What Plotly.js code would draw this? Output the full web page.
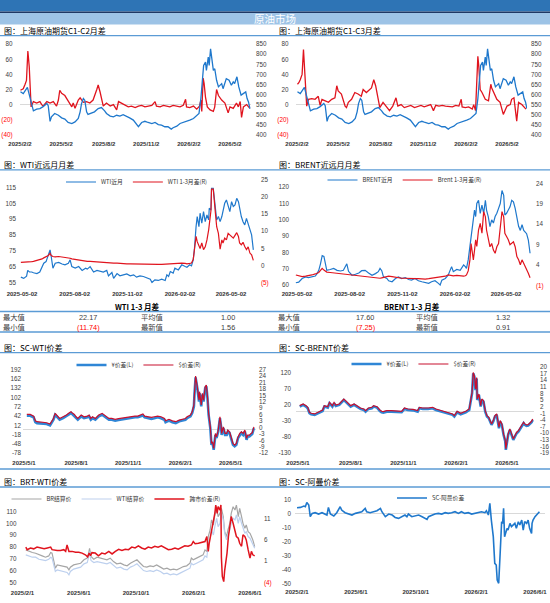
<!DOCTYPE html>
<html><head><meta charset="utf-8">
<script src="https://cdn.plot.ly/plotly-3.0.1.min.js"></script>
<style>html,body{margin:0;padding:0;background:#fff}#chart{width:550px;height:603px}</style>
</head><body><div id="chart"></div>
<script>
// ---------------- DATA ----------------
// 上海原油期货 主力价格 (R) 与 C1-C2 / C1-C3 月差 (L)
const scDates = ['2025-02-03','2025-02-09','2025-02-18','2025-02-22','2025-02-27','2025-03-03','2025-03-10','2025-03-17','2025-03-24','2025-04-01','2025-04-04','2025-04-08','2025-04-11','2025-04-18','2025-04-26','2025-05-03','2025-05-10','2025-05-17','2025-05-25','2025-06-01','2025-06-08','2025-06-12','2025-06-15','2025-06-19','2025-06-22','2025-06-26','2025-06-29','2025-07-06','2025-07-13','2025-07-21','2025-07-28','2025-08-04','2025-08-08','2025-08-16','2025-08-23','2025-08-30','2025-09-06','2025-09-13','2025-09-20','2025-09-27','2025-10-05','2025-10-12','2025-10-16','2025-10-23','2025-10-30','2025-11-06','2025-11-14','2025-11-21','2025-11-28','2025-12-05','2025-12-12','2025-12-19','2025-12-26','2025-12-30','2026-01-07','2026-01-14','2026-01-21','2026-01-28','2026-02-04','2026-02-12','2026-02-19','2026-02-24','2026-02-28','2026-03-03','2026-03-06','2026-03-10','2026-03-12','2026-03-16','2026-03-18','2026-03-21','2026-03-24','2026-03-27','2026-03-30','2026-04-03','2026-04-07','2026-04-10','2026-04-14','2026-04-17','2026-04-21','2026-04-24','2026-04-30','2026-05-05','2026-05-09','2026-05-12','2026-05-17','2026-05-21','2026-05-26','2026-05-30','2026-06-05','2026-06-08','2026-06-11','2026-06-14'];
const scValues = [614,605,636,601,547,519,527,530,540,556,545,467,489,506,497,484,478,461,456,464,481,514,555,580,572,514,501,506,514,530,535,519,506,493,489,497,493,500,493,484,473,448,440,461,467,461,456,461,451,448,440,440,428,435,443,456,461,466,473,481,493,506,580,679,745,761,720,786,745,827,777,720,728,671,638,646,654,629,654,679,671,646,663,655,688,638,597,605,613,580,563,530];

const c12Dates = ['2025-02-03','2025-02-09','2025-02-13','2025-02-16','2025-02-19','2025-02-22','2025-02-26','2025-03-03','2025-03-10','2025-03-17','2025-03-21','2025-03-24','2025-04-01','2025-04-08','2025-04-15','2025-04-22','2025-04-26','2025-04-29','2025-05-03','2025-05-10','2025-05-14','2025-05-21','2025-05-25','2025-05-28','2025-06-01','2025-06-08','2025-06-12','2025-06-19','2025-06-26','2025-07-03','2025-07-10','2025-07-18','2025-07-21','2025-07-25','2025-07-29','2025-08-01','2025-08-08','2025-08-16','2025-08-23','2025-08-30','2025-09-03','2025-09-10','2025-09-17','2025-09-24','2025-10-01','2025-10-09','2025-10-16','2025-10-23','2025-10-30','2025-11-06','2025-11-14','2025-11-21','2025-11-24','2025-12-02','2025-12-09','2025-12-16','2025-12-23','2025-12-30','2026-01-07','2026-01-14','2026-01-21','2026-01-26','2026-01-28','2026-02-04','2026-02-12','2026-02-19','2026-02-25','2026-02-28','2026-03-02','2026-03-05','2026-03-07','2026-03-10','2026-03-14','2026-03-20','2026-03-27','2026-03-30','2026-04-03','2026-04-07','2026-04-14','2026-04-21','2026-04-28','2026-05-02','2026-05-09','2026-05-16','2026-05-20','2026-05-24','2026-05-27','2026-05-31','2026-06-07','2026-06-11','2026-06-14'];
const c12Values = [19,21,27,32,71,50,-3,4,2,4,0,-2,4,2,4,-2,6,19,15,12,8,2,-3,2,-5,6,9,3,4,2,6,20,26,17,4,-2,2,-2,0,-7,4,2,-1,-3,-2,-4,-2,-1,-3,-2,-1,4,-2,-3,-1,-2,-3,-1,-2,-3,-1,7,-3,-4,-2,-6,-2,6,-9,35,28,10,-3,-7,-9,-3,20,12,6,2,-11,-3,-5,2,-3,4,-17,-3,0,-3,-5];

const c13Dates = ['2025-02-03','2025-02-06','2025-02-09','2025-02-13','2025-02-16','2025-02-18','2025-02-23','2025-02-27','2025-03-06','2025-03-13','2025-03-20','2025-03-24','2025-03-28','2025-04-04','2025-04-11','2025-04-18','2025-04-25','2025-04-29','2025-05-02','2025-05-09','2025-05-13','2025-05-17','2025-05-20','2025-05-24','2025-05-31','2025-06-07','2025-06-14','2025-06-21','2025-06-25','2025-07-02','2025-07-13','2025-07-18','2025-07-22','2025-07-27','2025-07-31','2025-08-07','2025-08-14','2025-08-21','2025-08-28','2025-09-04','2025-09-08','2025-09-15','2025-09-22','2025-09-29','2025-10-06','2025-10-14','2025-10-21','2025-10-28','2025-11-04','2025-11-11','2025-11-18','2025-11-24','2025-11-29','2025-12-06','2025-12-13','2025-12-20','2025-12-28','2026-01-04','2026-01-11','2026-01-18','2026-01-23','2026-01-25','2026-02-01','2026-02-08','2026-02-16','2026-02-19','2026-02-23','2026-02-28','2026-03-02','2026-03-05','2026-03-09','2026-03-16','2026-03-23','2026-03-28','2026-03-30','2026-04-04','2026-04-10','2026-04-17','2026-04-24','2026-05-02','2026-05-09','2026-05-12','2026-05-17','2026-05-23','2026-05-27','2026-06-03','2026-06-12'];
const c13Values = [27,29,33,40,73,51,-2,7,8,7,11,-1,7,5,3,7,9,25,18,14,7,-2,-4,3,7,16,14,11,20,16,22,33,25,7,-4,3,-2,-8,-2,9,-2,0,-4,-2,-1,-4,-2,-1,-3,-1,0,-8,-1,-2,-1,-2,-2,-3,-1,-2,7,-3,-4,-3,-6,0,-8,64,51,20,16,7,5,27,22,16,7,3,-13,-2,0,7,9,-22,3,0,-6];

const c12TickDates = ['2025-02-02','2025-05-02','2025-08-02','2025-11-02','2026-02-02','2026-05-02'];
const c12TickLabels = ['2025/2/2','2025/5/2','2025/8/2','2025/11/2','2026/2/2','2026/5/2'];
const c12LeftTicks = [-40,-20,0,20,40,60,80];
const c12RightTicks = [400,450,500,550,600,650,700,750,800,850];

// WTI 近月 (L) 与 WTI 1-3 月差 (R)
const wtiDates = ['2025-04-30','2025-05-05','2025-05-10','2025-05-12','2025-05-15','2025-05-19','2025-05-22','2025-05-28','2025-06-02','2025-06-06','2025-06-09','2025-06-13','2025-06-17','2025-06-20','2025-06-22','2025-06-25','2025-06-29','2025-07-05','2025-07-11','2025-07-16','2025-07-22','2025-07-25','2025-07-28','2025-08-03','2025-08-09','2025-08-15','2025-08-21','2025-08-24','2025-08-29','2025-09-04','2025-09-10','2025-09-16','2025-09-21','2025-09-27','2025-09-30','2025-10-06','2025-10-09','2025-10-15','2025-10-20','2025-10-26','2025-11-01','2025-11-07','2025-11-13','2025-11-18','2025-11-24','2025-11-30','2025-12-06','2025-12-12','2025-12-15','2025-12-20','2025-12-26','2026-01-01','2026-01-07','2026-01-10','2026-01-13','2026-01-16','2026-01-21','2026-01-24','2026-01-30','2026-02-05','2026-02-11','2026-02-14','2026-02-19','2026-02-22','2026-02-25','2026-02-27','2026-03-02','2026-03-04','2026-03-07','2026-03-09','2026-03-12','2026-03-15','2026-03-18','2026-03-21','2026-03-24','2026-03-25','2026-03-28','2026-03-29','2026-04-01','2026-04-04','2026-04-07','2026-04-10','2026-04-13','2026-04-16','2026-04-18','2026-04-21','2026-04-24','2026-04-27','2026-04-30','2026-05-03','2026-05-06','2026-05-09','2026-05-12','2026-05-15','2026-05-17','2026-05-20','2026-05-23','2026-05-26','2026-05-29','2026-06-01','2026-06-04','2026-06-07','2026-06-10'];
const wtiFront = [58.8,58,59.4,63,62,62,61.5,61,62,65.4,67.5,68.5,72,75.8,71.7,64.4,67.5,68,67,66.5,67.5,69.6,65.4,64.4,65.4,63,64.4,63.8,65.4,62,63,62.7,62,63,59.6,61.7,58,61,59.6,60.2,60.8,59.6,60.2,58.8,59.6,59.2,58.5,57.5,55.4,57.1,56.7,57.5,56.7,60.2,59.2,62.3,61.3,64.4,63.3,66.5,65.4,65,66.5,65.8,69.6,75.8,90.4,96.7,90.4,98.8,92.5,99.8,93.5,97.7,94.6,101.9,100.8,114.4,114.4,102.9,94.6,96.7,93.5,96.7,99.8,105,107.1,104,99.8,106,103,104,108.1,106,101.9,96.7,93.5,91.5,95.6,92.5,89.4,85.2,75.8];
const wtiSpread = [1.0,1.0,1.1,1.1,1.2,1.2,1.3,1.5,1.7,2.0,2.3,2.6,3.0,3.6,3.0,2.7,2.6,2.7,2.6,2.4,2.3,2.2,2.0,1.8,1.6,1.5,1.4,1.3,1.3,1.2,1.1,1.0,1.0,0.9,0.9,0.8,0.8,0.8,0.7,0.7,0.6,0.6,0.55,0.5,0.5,0.5,0.4,0.4,0.35,0.35,0.4,0.4,0.5,0.55,0.6,0.6,0.7,0.7,0.8,0.8,0.7,0.6,0.7,0.8,1.8,4.5,8.5,7.0,5.6,5.0,6.6,4.7,5.5,7.5,10.4,12,16,22.2,22.2,16.6,11.3,9.4,4.8,7.5,6.6,8.0,7.5,9.4,9.0,8.5,8.0,8.8,9.6,8.5,6.6,6.1,6.8,5.6,4.7,5.5,3.7,3.2,1.56];
const wtiTickDates = ['2025-05-02','2025-08-02','2025-11-02','2026-02-02','2026-05-02'];
const wtiTickLabels = ['2025-05-02','2025-08-02','2025-11-02','2026-02-02','2026-05-02'];
const wtiLeftTicks = [55,65,75,85,95,105,115];
const wtiRightTicks = [-5,0,5,10,15,20,25];
const wtiStatNames = ['最大值','最小值','平均值','最新值'];
const wtiStatValues = [22.17,-11.74,1.00,1.56];

// BRENT 近月 (L) 与 Brent 1-3 月差 (R)
const brentDates = ['2025-04-30','2025-05-05','2025-05-11','2025-05-17','2025-05-22','2025-05-28','2025-06-03','2025-06-06','2025-06-09','2025-06-12','2025-06-15','2025-06-18','2025-06-21','2025-06-23','2025-06-29','2025-07-05','2025-07-11','2025-07-17','2025-07-22','2025-07-25','2025-07-28','2025-07-31','2025-08-06','2025-08-12','2025-08-18','2025-08-23','2025-08-29','2025-09-04','2025-09-10','2025-09-16','2025-09-21','2025-09-24','2025-09-27','2025-09-30','2025-10-06','2025-10-09','2025-10-15','2025-10-21','2025-10-26','2025-11-01','2025-11-07','2025-11-13','2025-11-18','2025-11-24','2025-11-30','2025-12-06','2025-12-12','2025-12-18','2025-12-23','2025-12-29','2026-01-04','2026-01-07','2026-01-10','2026-01-16','2026-01-21','2026-01-24','2026-01-27','2026-01-30','2026-02-05','2026-02-11','2026-02-14','2026-02-17','2026-02-20','2026-02-22','2026-02-25','2026-02-28','2026-03-02','2026-03-04','2026-03-06','2026-03-08','2026-03-10','2026-03-12','2026-03-15','2026-03-18','2026-03-21','2026-03-24','2026-03-27','2026-03-29','2026-04-01','2026-04-04','2026-04-07','2026-04-10','2026-04-13','2026-04-16','2026-04-19','2026-04-22','2026-04-25','2026-04-28','2026-04-30','2026-05-03','2026-05-06','2026-05-09','2026-05-12','2026-05-15','2026-05-18','2026-05-21','2026-05-24','2026-05-27','2026-05-30','2026-06-02','2026-06-04','2026-06-07','2026-06-10','2026-06-13'];
const brentFront = [61.4,61.8,64,65,64.6,65,65.5,67,69,73,78,77.5,72,69,69.5,70.2,69,68.6,69,71.3,73,68.4,66,66.6,67.4,68.8,69,67.4,66,67,68.2,70.2,68.8,65,64,62.6,62,64,65,64,64.6,63.4,63,64,62.6,62,61.4,61,62,62.6,61,60,63,64,66,69,71.3,68.2,69.6,69,70.8,72.3,71.3,70.2,75.4,83.5,87.6,95.8,98.8,106,102,110,112,104,109,104,112,106,102,95.8,100,98,102,104,107,110,118,115,103,104,106,108,112,111,107,100.5,96,93.5,97,93.5,92.8,91.5,87.6,79.5];
const brentSpread = [1.6,1.4,1.2,1.3,1.4,1.6,1.85,2.0,2.2,2.7,3.2,2.8,2.4,2.3,2.2,2.1,2.0,1.9,1.85,1.8,1.7,1.6,1.5,1.4,1.3,1.25,1.2,1.1,1.0,0.9,0.8,0.8,0.9,1.0,1.2,1.3,1.2,1.0,1.0,0.8,0.8,0.7,0.7,0.7,0.7,0.6,0.6,0.7,0.8,0.9,1.0,1.0,1.2,1.3,1.6,1.5,1.5,1.4,1.5,1.4,1.2,1.3,1.4,1.6,2.6,5.3,9.3,7.6,5.3,7.6,10.2,8.6,12.6,14.2,11.8,17.1,15.8,12.6,10.2,8.5,9.3,7.7,6.9,8.5,9.3,13.4,17.1,15.8,11.8,11,10.2,9,9.3,9.7,8.5,6.1,5.3,4.1,5.3,4.5,3.6,2.8,2.0,0.91];
const brentLeftTicks = [60,70,80,90,100,110,120];
const brentRightTicks = [-1,4,9,14,19,24];
const brentStatNames = ['最大值','最小值','平均值','最新值'];
const brentStatValues = [17.60,-7.25,1.32,0.91];

// SC-WTI 价差: ¥ (L), $ (R)
const scwDates = ['2025-05-06','2025-05-12','2025-05-18','2025-05-21','2025-05-24','2025-05-30','2025-06-04','2025-06-10','2025-06-16','2025-06-19','2025-06-22','2025-06-25','2025-06-28','2025-07-03','2025-07-09','2025-07-15','2025-07-20','2025-07-23','2025-07-26','2025-07-29','2025-08-01','2025-08-04','2025-08-10','2025-08-15','2025-08-21','2025-08-24','2025-08-27','2025-08-30','2025-09-04','2025-09-10','2025-09-16','2025-09-22','2025-09-28','2025-10-03','2025-10-09','2025-10-15','2025-10-21','2025-10-26','2025-11-01','2025-11-07','2025-11-13','2025-11-18','2025-11-24','2025-11-27','2025-11-30','2025-12-06','2025-12-12','2025-12-17','2025-12-23','2025-12-29','2026-01-04','2026-01-06','2026-01-12','2026-01-18','2026-01-24','2026-01-30','2026-02-04','2026-02-10','2026-02-13','2026-02-19','2026-02-22','2026-02-25','2026-02-26','2026-02-28','2026-03-03','2026-03-06','2026-03-07','2026-03-10','2026-03-12','2026-03-14','2026-03-17','2026-03-19','2026-03-21','2026-03-23','2026-03-26','2026-03-28','2026-03-30','2026-04-01','2026-04-04','2026-04-06','2026-04-09','2026-04-12','2026-04-14','2026-04-15','2026-04-18','2026-04-21','2026-04-24','2026-04-26','2026-04-29','2026-05-02','2026-05-05','2026-05-08','2026-05-11','2026-05-14','2026-05-17','2026-05-20','2026-05-23','2026-05-26','2026-05-29','2026-05-31','2026-06-03','2026-06-06','2026-06-08','2026-06-11'];
const scwYuan = [43,43,38,22,19,18,16,16,12,22,30,46,41,30,35,41,48,52,46,43,35,30,41,35,38,41,30,35,30,41,46,38,30,30,27,29,31,33,35,35,38,38,41,44,38,35,33,35,38,35,30,22,27,22,19,25,27,30,35,41,52,73,111,167,133,89,116,73,111,89,133,138,100,46,3,-51,-46,-67,-19,-29,-8,35,8,-19,3,-19,-19,-8,-13,-35,-51,-56,-51,-29,-19,-13,-19,-8,-35,-24,-24,-19,-16,3];
const scwUsd = [6.1,6.1,5.3,3.1,2.7,2.5,2.2,2.2,1.6,3.1,4.2,6.6,5.8,4.2,5.0,5.8,6.9,7.3,6.6,6.1,5.0,4.2,5.8,5.0,5.3,5.8,4.2,5.0,4.2,5.8,6.6,5.3,4.2,4.2,3.8,4.1,4.4,4.7,5.0,5.0,5.3,5.3,5.8,6.3,5.3,5.0,4.7,5.0,5.3,5.0,4.2,3.1,3.8,3.1,2.7,3.4,3.8,4.2,5.0,5.8,7.3,10.5,15.9,24.0,19.0,12.8,16.7,10.5,15.9,12.8,19.0,19.8,14.4,6.6,0.3,-7.5,-6.7,-9.8,-2.8,-4.4,-1.2,5.0,1.1,-2.8,0.3,-2.8,-2.8,-1.2,-2.0,-5.1,-7.5,-8.3,-7.5,-4.4,-2.8,-2.0,-2.8,-1.2,-5.1,-3.6,-3.6,-2.8,-2.5,0.3];
const spreadTickDates = ['2025-05-01','2025-08-01','2025-11-01','2026-02-01','2026-05-01'];
const spreadTickLabels = ['2025/5/1','2025/8/1','2025/11/1','2026/2/1','2026/5/1'];
const scwLeftTicks = [-78,-48,-18,12,42,72,102,132,162,192];
const scwRightTicks = [-12,-9,-6,-3,0,3,6,9,12,15,18,21,24,27];

// SC-BRENT 价差: ¥ (L), $ (R)
const scbDates = ['2025-05-04','2025-05-10','2025-05-15','2025-05-18','2025-05-21','2025-05-24','2025-05-30','2025-06-04','2025-06-10','2025-06-13','2025-06-16','2025-06-22','2025-06-25','2025-06-28','2025-06-30','2025-07-03','2025-07-06','2025-07-12','2025-07-17','2025-07-20','2025-07-23','2025-07-29','2025-08-01','2025-08-07','2025-08-12','2025-08-18','2025-08-24','2025-08-27','2025-09-01','2025-09-07','2025-09-10','2025-09-16','2025-09-21','2025-09-24','2025-09-27','2025-10-03','2025-10-11','2025-10-20','2025-10-29','2025-11-03','2025-11-09','2025-11-18','2025-11-26','2025-11-29','2025-12-05','2025-12-14','2025-12-22','2025-12-28','2026-01-03','2026-01-09','2026-01-15','2026-01-20','2026-01-26','2026-01-29','2026-02-01','2026-02-03','2026-02-09','2026-02-18','2026-02-24','2026-02-26','2026-03-01','2026-03-03','2026-03-05','2026-03-06','2026-03-07','2026-03-09','2026-03-10','2026-03-13','2026-03-16','2026-03-18','2026-03-21','2026-03-24','2026-03-27','2026-03-30','2026-04-02','2026-04-04','2026-04-07','2026-04-10','2026-04-13','2026-04-16','2026-04-17','2026-04-19','2026-04-22','2026-04-25','2026-04-28','2026-04-29','2026-05-01','2026-05-03','2026-05-06','2026-05-09','2026-05-12','2026-05-15','2026-05-18','2026-05-21','2026-05-24','2026-05-27','2026-05-30','2026-06-01','2026-06-04','2026-06-07','2026-06-10','2026-06-13','2026-06-15'];
const scbYuan = [14.6,20,14.6,9.5,-6,-9,-11,-6,-1,1,14.6,11.5,25,20,14.6,25,16.7,20,30,35,30,20,14.6,20,14.6,7.4,4.3,-1,7.4,9.5,14.6,11.5,1,-3,-4,-1,-1,-1,-3,7.4,4.3,3,-1,9.5,7.4,7.4,9.5,4.3,1,-3,-6,-9,-11,-16,-9,-3,-9,-3,4.3,30,56,118,108,92,66,102,35,51,14.6,35,30,-1,-16,-21,-37,-42,-32,-16,-11,-37,-53,-32,-42,-73,-94,-120,-94,-73,-58,-73,-89,-78,-68,-63,-55,-47,-37,-42,-45,-44,-40,-34,-27];
const scbUsd = [2.45,3.2,2.45,1.7,-0.55,-1.0,-1.3,-0.55,0.2,0.5,2.45,2.0,3.95,3.2,2.45,3.95,2.75,3.2,4.7,5.45,4.7,3.2,2.45,3.2,2.45,1.4,0.95,0.2,1.4,1.7,2.45,2.0,0.5,-0.1,-0.25,0.2,0.2,0.2,-0.1,1.4,0.95,0.8,0.2,1.7,1.4,1.4,1.7,0.95,0.5,-0.1,-0.55,-1.0,-1.3,-2.05,-1.0,-0.1,-1.0,-0.1,0.95,4.7,8.45,17.45,15.95,13.7,9.95,15.2,5.45,7.7,2.45,5.45,4.7,0.2,-2.05,-2.8,-5.05,-5.8,-4.3,-2.05,-1.3,-5.05,-7.3,-4.3,-5.8,-10.3,-13.3,-17.05,-13.3,-10.3,-8.05,-10.3,-12.55,-11.05,-9.55,-8.8,-7.6,-6.55,-5.05,-5.8,-6.25,-6.1,-5.5,-4.6,-3.55];
const scbLeftTicks = [-130,-80,-30,20,70,120];
const scbRightTicks = [-19,-16,-13,-10,-7,-4,-1,2,5,8,11,14,17,20];

// BRT-WTI: 结算价 (L) 与跨市价差 (R)
const bwDates = ['2025-02-08','2025-02-15','2025-02-22','2025-03-01','2025-03-08','2025-03-15','2025-03-22','2025-03-29','2025-04-02','2025-04-05','2025-04-09','2025-04-12','2025-04-16','2025-04-23','2025-04-30','2025-05-07','2025-05-11','2025-05-14','2025-05-21','2025-05-28','2025-06-05','2025-06-12','2025-06-19','2025-06-22','2025-06-24','2025-06-27','2025-07-03','2025-07-10','2025-07-17','2025-07-24','2025-07-31','2025-08-07','2025-08-14','2025-08-21','2025-08-29','2025-09-05','2025-09-12','2025-09-19','2025-09-26','2025-10-03','2025-10-10','2025-10-17','2025-10-24','2025-10-31','2025-11-07','2025-11-14','2025-11-22','2025-11-29','2025-12-06','2025-12-13','2025-12-20','2025-12-27','2026-01-03','2026-01-10','2026-01-17','2026-01-24','2026-01-27','2026-01-31','2026-02-07','2026-02-14','2026-02-21','2026-02-25','2026-03-01','2026-03-04','2026-03-08','2026-03-11','2026-03-15','2026-03-18','2026-03-22','2026-03-25','2026-03-29','2026-04-01','2026-04-05','2026-04-08','2026-04-12','2026-04-15','2026-04-19','2026-04-22','2026-04-26','2026-04-30','2026-05-03','2026-05-07','2026-05-10','2026-05-14','2026-05-17','2026-05-21','2026-05-24','2026-05-28','2026-06-01','2026-06-04','2026-06-07','2026-06-11'];
const brSettle = [77.6,76.2,75.4,74.8,73.4,72.5,71.4,72.5,75.4,74.8,67.7,62.1,64.9,64.1,63.5,63,60.7,63,64.9,65.8,66.3,69.2,70.6,74.8,79,72,69.7,71.4,70.6,69.7,69.2,70.6,67.7,65.8,66.3,64.9,64.1,66.3,67.7,69.2,66.3,63.5,63,64.1,63.5,64.9,63,61.3,62.1,60.7,61.3,60.7,62.1,63.5,64.1,66.3,70.6,69.2,70.6,72,73.4,77.6,76.2,88.9,94.5,103,98.7,107.2,114.2,105.8,108.6,112.8,105.8,93.1,88.9,94.5,100.1,108.6,114.2,111.4,115.6,105.8,112.8,105.8,100.1,95.9,98.7,93.1,91.7,88.9,86.1,80.4];
const wtiSettle = [73.4,72.5,71.4,71.4,69.7,69.2,68.6,69.7,71.4,70.6,63.5,59.3,60.7,60.1,59.3,58.5,56.5,59.3,61.3,62.1,63,65.8,66.9,71.4,76.2,68.6,66.9,67.7,66.9,66.3,65.8,66.9,64.1,62.1,63,61.3,60.7,63,64.1,65.8,63,60.1,59.3,60.1,59.3,60.7,59.3,57.3,57.9,56.5,57.3,56.5,57.9,59.3,60.1,62.1,66.3,64.9,66.3,67.7,69.2,72.5,71.4,82.7,87.5,94.5,90.3,97.3,104.4,97.3,100.1,108.6,103,91.7,86.1,90.3,94.5,100.1,104.4,103,107.2,100.1,105.8,100.1,95.9,91.7,93.1,88.9,87.5,84.7,81.8,79];
const bwSpreadDates = ['2025-02-08','2025-02-11','2025-02-18','2025-02-25','2025-03-04','2025-03-12','2025-03-19','2025-03-26','2025-04-02','2025-04-05','2025-04-09','2025-04-16','2025-04-23','2025-04-30','2025-05-04','2025-05-07','2025-05-11','2025-05-18','2025-05-25','2025-06-01','2025-06-08','2025-06-15','2025-06-20','2025-06-23','2025-06-26','2025-06-29','2025-07-06','2025-07-13','2025-07-20','2025-07-27','2025-08-04','2025-08-11','2025-08-18','2025-08-25','2025-09-01','2025-09-08','2025-09-15','2025-09-22','2025-09-29','2025-10-06','2025-10-13','2025-10-20','2025-10-27','2025-11-03','2025-11-10','2025-11-17','2025-11-24','2025-12-02','2025-12-09','2025-12-16','2025-12-23','2025-12-30','2026-01-06','2026-01-13','2026-01-20','2026-01-27','2026-01-31','2026-02-04','2026-02-11','2026-02-18','2026-02-25','2026-03-01','2026-03-04','2026-03-06','2026-03-11','2026-03-15','2026-03-18','2026-03-20','2026-03-23','2026-03-25','2026-03-29','2026-03-31','2026-04-01','2026-04-03','2026-04-06','2026-04-08','2026-04-10','2026-04-13','2026-04-16','2026-04-19','2026-04-22','2026-04-26','2026-04-30','2026-05-03','2026-05-07','2026-05-10','2026-05-14','2026-05-17','2026-05-21','2026-05-24','2026-05-28','2026-06-01','2026-06-04','2026-06-07','2026-06-11'];
const bwSpread = [4.3,3.7,4.1,3.9,4.3,4.1,3.9,4.1,4.3,3.7,3.6,3.5,3.5,3.7,3.3,4.8,3.3,3.3,3.1,3.1,2.9,2.5,2.0,2.9,2.3,3.0,2.9,2.25,2.9,2.7,3.3,2.7,3.3,3.8,3.5,3.8,3.7,4.3,4.1,4.6,4.1,3.8,4.3,4.1,4.5,4.3,4.6,4.1,3.7,3.8,4.1,3.8,4.3,4.6,4.5,4.8,5.6,5.1,5.2,5.4,5.6,6.8,3.3,5.2,8.0,9.9,12.25,14.2,12.25,13.8,13.0,14.2,1.9,-2.6,-3.8,-1.2,0.5,2.9,6.8,9.6,11.5,9.9,8.0,6.8,6.4,5.2,4.5,7.2,6.8,6.0,3.7,1.7,3.3,2.5,2.25];
const bwTickDates = ['2025-02-01','2025-06-01','2025-10-01','2026-02-01','2026-06-01'];
const bwTickLabels = ['2025/2/1','2025/6/1','2025/10/1','2026/2/1','2026/6/1'];
const bwLeftTicks = [50,60,70,80,90,100,110];
const bwRightTicks = [-4,1,6,11];

// SC-阿曼 价差
const omDates = ['2025-02-01','2025-02-08','2025-02-15','2025-02-18','2025-02-21','2025-02-25','2025-02-28','2025-03-04','2025-03-10','2025-03-17','2025-03-24','2025-03-31','2025-04-03','2025-04-06','2025-04-10','2025-04-17','2025-04-23','2025-04-30','2025-05-03','2025-05-10','2025-05-17','2025-05-24','2025-05-31','2025-06-06','2025-06-13','2025-06-20','2025-06-23','2025-06-30','2025-07-07','2025-07-14','2025-07-21','2025-07-24','2025-07-31','2025-08-07','2025-08-14','2025-08-20','2025-08-27','2025-09-02','2025-09-09','2025-09-13','2025-09-16','2025-09-23','2025-09-30','2025-10-07','2025-10-14','2025-10-21','2025-10-24','2025-10-27','2025-11-03','2025-11-09','2025-11-16','2025-11-23','2025-11-30','2025-12-06','2025-12-13','2025-12-20','2025-12-27','2026-01-02','2026-01-09','2026-01-16','2026-01-23','2026-01-30','2026-02-05','2026-02-12','2026-02-19','2026-02-22','2026-02-26','2026-03-01','2026-03-04','2026-03-08','2026-03-11','2026-03-14','2026-03-16','2026-03-19','2026-03-22','2026-03-25','2026-03-27','2026-03-29','2026-03-31','2026-04-02','2026-04-05','2026-04-07','2026-04-11','2026-04-14','2026-04-18','2026-04-21','2026-04-24','2026-04-28','2026-05-01','2026-05-05','2026-05-08','2026-05-11','2026-05-15','2026-05-18','2026-05-21','2026-05-25','2026-05-26','2026-05-28','2026-06-01','2026-06-04','2026-06-07','2026-06-10'];
const omValues = [4.5,4.7,5.7,5.2,8.3,6.4,-2,0.4,0.9,-0.1,0.9,-0.1,-0.8,4.7,-0.1,-1.5,0.9,5.2,2.8,0.9,-0.1,-0.8,0.4,0.9,1.6,4,1.6,0.9,1.6,2.3,4,1.6,-2,-0.1,-0.8,-2.5,-3.2,-2,-0.8,-2,-0.1,-2,-1.5,-0.8,-2,-3.2,-3.9,-2,-0.8,-0.1,0.4,-0.1,0.9,0.4,0.9,1.6,0.4,1.6,0.4,0.9,-0.1,0.4,0.9,1.6,0.9,2.3,-0.8,7.6,-4.4,-16.4,-35.6,-36.8,-47.6,-50,-28.4,-5.6,-6.8,4,-16.4,-14,-10.4,-11.6,-6.8,-9.2,-8,-6.8,-10.4,-5.6,-8,-4.4,-11.6,-5.6,-6.8,-4.4,-10.4,-14,-6.8,-4.4,-2,-0.8,0.9,1.6];
const omLeftTicks = [-50,-40,-30,-20,-10,0,10];

// ---------------- LAYOUT HELPERS ----------------
const W = 550, H = 603;
const FONT = "'Liberation Sans','Noto Sans CJK SC',sans-serif";
const CJK = "'Noto Sans CJK SC','Liberation Sans',sans-serif";
const BLUE = '#1F78CC', RED = '#E0141E', LINE = '#5B9BD5';

function dx(a, b) { return [a / W, b / W]; }
function dy(top, bottom) { return [1 - bottom / H, 1 - top / H]; }
function dateRange(x0, x1, ra, rb) {
  const ta = Date.parse(ra[0] + 'T00:00:00Z'), tb = Date.parse(rb[0] + 'T00:00:00Z');
  const k = (tb - ta) / (rb[1] - ra[1]);
  const f = t => new Date(t).toISOString().slice(0, 19).replace('T', ' ');
  return [f(ta + (x0 - ra[1]) * k), f(ta + (x1 - ra[1]) * k)];
}
function paren(vals) {
  return vals.map(v => v < 0 ? '<span style="color:#FF0000">(' + (-v) + ')</span>' : String(v));
}
function xAxis(bx, refs, tv, tt, anchor, standoff) {
  return {domain: dx(bx[0], bx[1]), anchor: anchor, type: 'date',
    range: dateRange(bx[0], bx[1], refs[0], refs[1]),
    tickmode: 'array', tickvals: tv, ticktext: tt, showgrid: false, zeroline: false,
    showline: false, ticks: '', ticklabelstandoff: standoff, fixedrange: true,
    tickfont: {family: FONT, size: 6, color: '#333333', weight: 700}};
}
function yAxis(by, anchor, range, tv, tt, standoff, extra) {
  const a = {anchor: anchor, range: range, tickmode: 'array', tickvals: tv, ticktext: tt,
    showgrid: false, zeroline: false, showline: false, ticks: '', ticklabelstandoff: standoff,
    fixedrange: true, tickfont: {family: FONT, size: 6.3, color: '#404040'}};
  if (by) a.domain = dy(by[0], by[1]);
  return Object.assign(a, extra || {});
}
const ZL = {zeroline: true, zerolinecolor: '#D9D9D9', zerolinewidth: 1};

const layout = {
  width: W, height: H, margin: {l: 0, r: 0, t: 0, b: 0},
  paper_bgcolor: '#ffffff', plot_bgcolor: 'rgba(0,0,0,0)', hovermode: false,
  font: {family: FONT, size: 7, color: '#333'},
  // P1
  xaxis: xAxis([19.5, 251], [['2025-02-02', 20], ['2026-05-02', 230]], c12TickDates, c12TickLabels, 'y', 4),
  yaxis: yAxis([44, 135], 'x', [-40.3, 80.3], c12LeftTicks, paren(c12LeftTicks), 6, ZL),
  yaxis2: yAxis(null, 'x', [398.9, 851.1], c12RightTicks, c12RightTicks.map(String), 4, {overlaying: 'y', side: 'right'}),
  // P2
  xaxis2: xAxis([295.5, 527], [['2025-02-02', 297], ['2026-05-02', 507]], c12TickDates, c12TickLabels, 'y3', 4),
  yaxis3: yAxis([44, 135], 'x2', [-40.3, 80.3], c12LeftTicks, paren(c12LeftTicks), 6, ZL),
  yaxis4: yAxis(null, 'x2', [398.9, 851.1], c12RightTicks, c12RightTicks.map(String), 3, {overlaying: 'y3', side: 'right'}),
  // P3
  xaxis3: xAxis([20, 257], [['2025-05-02', 22], ['2026-05-02', 231]], wtiTickDates, wtiTickLabels, 'y5', 5),
  yaxis5: yAxis([179, 283.5], 'x3', [54.8, 120.2], wtiLeftTicks, wtiLeftTicks.map(String), 3),
  yaxis6: yAxis(null, 'x3', [-5.1, 25.1], wtiRightTicks, paren(wtiRightTicks), 3, {overlaying: 'y5', side: 'right'}),
  // P4
  xaxis4: xAxis([295, 532], [['2025-05-02', 297], ['2026-05-02', 506]], wtiTickDates, wtiTickLabels, 'y7', 3),
  yaxis7: yAxis([183, 286], 'x4', [59.4, 122.6], brentLeftTicks, brentLeftTicks.map(String), 5),
  yaxis8: yAxis(null, 'x4', [-1.1, 24.1], brentRightTicks, paren(brentRightTicks), 3, {overlaying: 'y7', side: 'right'}),
  // P5
  xaxis5: xAxis([23, 256], [['2025-05-01', 24], ['2026-05-01', 230.7]], spreadTickDates, spreadTickLabels, 'y9', 5),
  yaxis9: yAxis([369.5, 453.3], 'x5', [-78.5, 192.5], scwLeftTicks, scwLeftTicks.map(String), 1, ZL),
  yaxis10: yAxis(null, 'x5', [-12.07, 27.07], scwRightTicks, scwRightTicks.map(String), 2, {overlaying: 'y9', side: 'right'}),
  // P6
  xaxis6: xAxis([296, 534], [['2025-05-01', 298], ['2026-05-01', 507]], spreadTickDates, spreadTickLabels, 'y11', 5),
  yaxis11: yAxis([366.7, 453.3], 'x6', [-130.5, 138.6], scbLeftTicks, scbLeftTicks.map(String), 4, ZL),
  yaxis12: yAxis(null, 'x6', [-19.07, 20.05], scbRightTicks, scbRightTicks.map(String), 5, {overlaying: 'y11', side: 'right'}),
  // P7
  xaxis7: xAxis([21.5, 258], [['2025-02-01', 22.5], ['2026-06-01', 250]], bwTickDates, bwTickLabels, 'y13', 5),
  yaxis13: yAxis([503.3, 582.7], 'x7', [49.8, 117.1], bwLeftTicks, bwLeftTicks.map(String), 4),
  yaxis14: yAxis(null, 'x7', [-4.06, 14.6], bwRightTicks, paren(bwRightTicks), 5, {overlaying: 'y13', side: 'right'}),
  // P8
  xaxis8: xAxis([295, 545], [['2025-02-01', 297], ['2026-06-01', 535]], bwTickDates, bwTickLabels, 'y15', 3),
  yaxis15: yAxis([497, 584], 'x8', [-50.5, 12.2], omLeftTicks, omLeftTicks.map(String), 3, ZL)
};

function leg(cx, cy) {
  return {x: cx / W, y: 1 - cy / H, xanchor: 'center', yanchor: 'middle', orientation: 'h',
    bgcolor: 'rgba(0,0,0,0)', borderwidth: 0, font: {family: CJK, size: 5.8, color: '#333'},
    itemwidth: 30, tracegroupgap: 0};
}
layout.legend = leg(137, 182);
layout.legend2 = leg(405, 180);
layout.legend3 = leg(139, 365);
layout.legend4 = leg(414, 364);
layout.legend5 = leg(116, 499);
layout.legend6 = leg(431, 498);

function ann(x, y, text, o) {
  o = o || {};
  return {xref: 'paper', yref: 'paper', x: x / W, y: 1 - y / H, text: text, showarrow: false,
    xanchor: o.xa || 'left', yanchor: 'middle',
    font: {family: o.family || CJK, size: o.size || 8, color: o.color || '#000', weight: o.weight || 400}};
}
const fmt = v => v < 0 ? '(' + Math.abs(v).toFixed(2) + ')' : v.toFixed(2);
const annotations = [
  ann(275, 19, '原油市场', {xa: 'center', size: 10.5, color: '#ffffff'}),
  ann(2, 30.5, '图：上海原油期货C1-C2月差'),
  ann(277, 30.5, '图：上海原油期货C1-C3月差'),
  ann(2, 164, '图：WTI近远月月差'),
  ann(277, 164, '图：BRENT近远月月差'),
  ann(2, 347.3, '图：SC-WTI价差'),
  ann(277, 347.3, '图：SC-BRENT价差'),
  ann(2, 481.5, '图：BRT-WTI价差'),
  ann(277, 481.5, '图：SC-阿曼价差'),
  ann(137, 306.5, 'WTI 1-3 月差', {xa: 'center', size: 7.5, weight: 700}),
  ann(412, 306.5, 'BRENT 1-3 月差', {xa: 'center', size: 7.5, weight: 700})
];
function statBlock(x0, xv1, xl2, xv2, names, vals) {
  const rows = [317, 327];
  annotations.push(ann(x0, rows[0], names[0], {size: 7.3, color: '#404040'}));
  annotations.push(ann(x0, rows[1], names[1], {size: 7.3, color: '#404040'}));
  annotations.push(ann(xl2, rows[0], names[2], {size: 7.3, color: '#404040'}));
  annotations.push(ann(xl2, rows[1], names[3], {size: 7.3, color: '#404040'}));
  [[xv1, rows[0], vals[0]], [xv1, rows[1], vals[1]], [xv2, rows[0], vals[2]], [xv2, rows[1], vals[3]]].forEach(r => {
    annotations.push(ann(r[0], r[1], fmt(r[2]), {xa: 'center', size: 7.3, family: FONT, color: r[2] < 0 ? '#FF0000' : '#404040'}));
  });
}
statBlock(1, 88, 139, 228, wtiStatNames, wtiStatValues);
statBlock(276, 365, 414, 503, brentStatNames, brentStatValues);
layout.annotations = annotations;

function rect(x0, y0, x1, y1, fill) {
  return {type: 'rect', xref: 'paper', yref: 'paper', x0: x0 / W, x1: x1 / W, y0: 1 - y1 / H, y1: 1 - y0 / H,
    fillcolor: fill, line: {width: 0}, layer: 'below'};
}
function hline(y, color, w) {
  return {type: 'line', xref: 'paper', yref: 'paper', x0: 0, x1: 1, y0: 1 - y / H, y1: 1 - y / H,
    line: {color: color, width: w}};
}
layout.shapes = [
  rect(0, 0, 550, 11.5, '#2E74B5'),
  rect(0, 11.5, 550, 13, '#1F3864'),
  rect(0, 13, 550, 24.5, '#9DC3E6'),
  hline(35.7, LINE, 1.3), hline(169.8, LINE, 1.3), hline(311.5, LINE, 1.3), hline(332, LINE, 1.3),
  hline(352.7, LINE, 1.3), hline(469, LINE, 1.3), hline(487, LINE, 1.3)
];

function ln(x, y, xa, ya, color, width, name, legend) {
  const t = {type: 'scatter', mode: 'lines', x: x, y: y, xaxis: xa, yaxis: ya,
    line: {color: color, width: width}, hoverinfo: 'skip'};
  if (name) { t.name = name; t.legend = legend; t.showlegend = true; } else { t.showlegend = false; }
  return t;
}
const traces = [
  ln(scDates, scValues, 'x', 'y2', BLUE, 1.3),
  ln(c12Dates, c12Values, 'x', 'y', RED, 1.3),
  ln(scDates, scValues, 'x2', 'y4', BLUE, 1.3),
  ln(c13Dates, c13Values, 'x2', 'y3', RED, 1.3),
  ln(wtiDates, wtiFront, 'x3', 'y5', BLUE, 1.2, 'WTI近月', 'legend'),
  ln(wtiDates, wtiSpread, 'x3', 'y6', RED, 1.2, 'WTI 1-3月差(R)', 'legend'),
  ln(brentDates, brentFront, 'x4', 'y7', BLUE, 1.2, 'BRENT近月', 'legend2'),
  ln(brentDates, brentSpread, 'x4', 'y8', RED, 1.2, 'Brent 1-3月差(R)', 'legend2'),
  ln(scwDates, scwYuan, 'x5', 'y9', '#2F86D6', 2.6, '¥价差(L)', 'legend3'),
  ln(scwDates, scwUsd, 'x5', 'y10', '#C8102E', 1.2, '$价差(R)', 'legend3'),
  ln(scbDates, scbYuan, 'x6', 'y11', '#2F86D6', 2.6, '¥价差(L)', 'legend4'),
  ln(scbDates, scbUsd, 'x6', 'y12', '#C8102E', 1.2, '$价差(R)', 'legend4'),
  ln(bwDates, brSettle, 'x7', 'y13', '#A6A6A6', 1.2, 'BR结算价', 'legend5'),
  ln(bwDates, wtiSettle, 'x7', 'y13', '#BDD0EE', 1.2, 'WTI结算价', 'legend5'),
  ln(bwSpreadDates, bwSpread, 'x7', 'y14', RED, 1.5, '跨市价差(R)', 'legend5'),
  ln(omDates, omValues, 'x8', 'y15', BLUE, 1.6, 'SC-阿曼价差', 'legend6')
];

Plotly.newPlot('chart', traces, layout, {staticPlot: true, displayModeBar: false});
</script>
</body></html>
